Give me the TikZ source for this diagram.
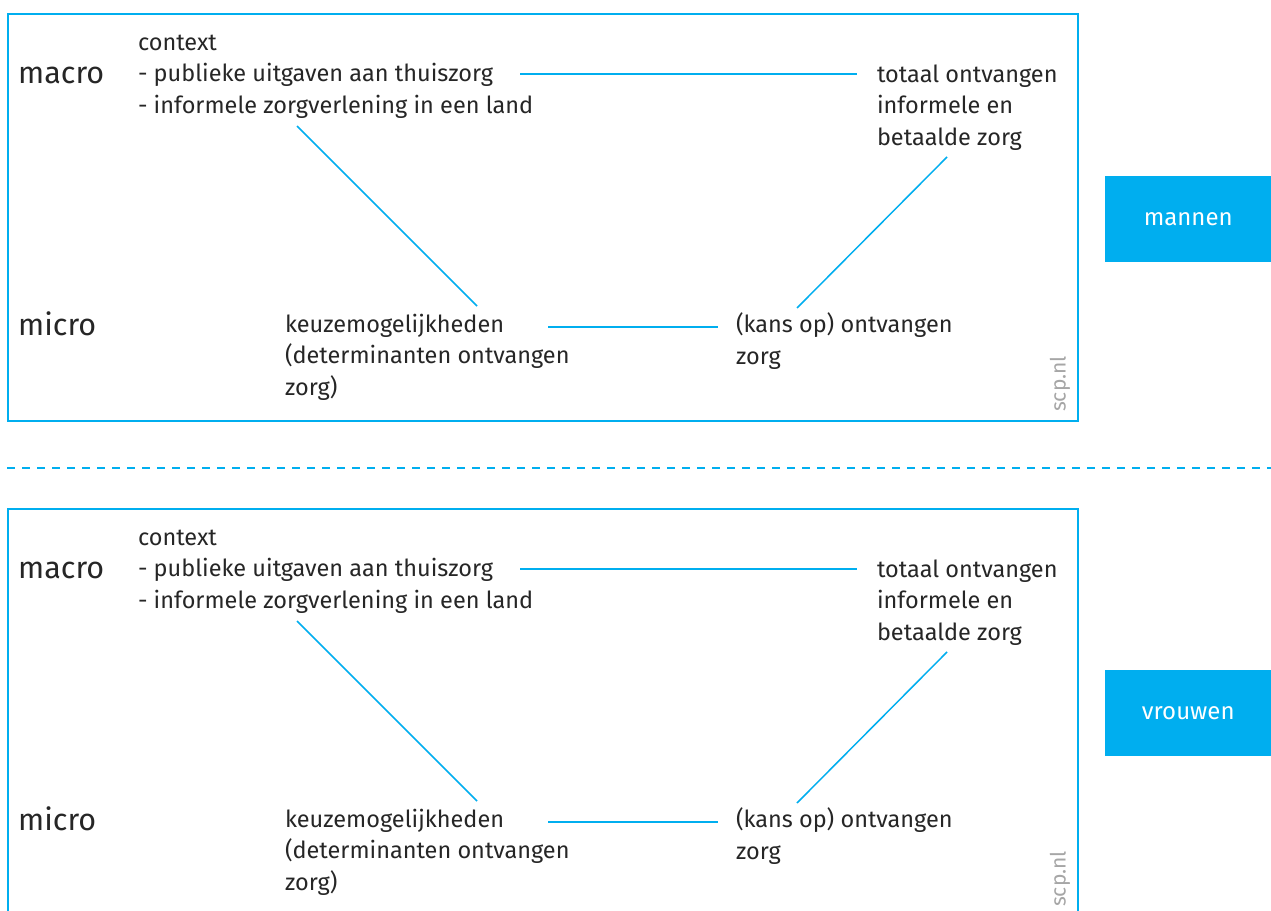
\documentclass[tikz,border=0pt]{standalone}
\usepackage{fontspec}
\setmainfont{Fira Sans}
\definecolor{scpblue}{HTML}{00AEEF}
\definecolor{srcgrey}{HTML}{A6A6A6}
\begin{document}
\begin{tikzpicture}[x=1pt,y=-1pt,
  frame/.style={draw=scpblue, line width=2pt},
  link/.style={draw=scpblue, line width=1.5pt},
  txt/.style={anchor=base west, inner sep=0pt, outer sep=0pt, text=black!85, font=\fontsize{23.5}{31.5}\selectfont, align=left},
  level/.style={anchor=base west, inner sep=0pt, text=black!85, font=\fontsize{30.5}{32}\selectfont},
  tag/.style={fill=scpblue, minimum width=166pt, minimum height=86pt, text=white, font=\fontsize{24}{28}\selectfont, inner sep=0pt, anchor=north west},
  src/.style={rotate=90, text=srcgrey, font=\fontsize{21}{24}\selectfont, inner sep=0pt},
  divider/.style={draw=scpblue, line width=2pt, dash pattern=on 8pt off 7pt}]
\useasboundingbox (0,0) rectangle (1271,910);
\clip (0,0) rectangle (1271,910);
\fill[white] (0,0) rectangle (1271,910);

% ---------- panel 1 (mannen) ----------
\begin{scope}
\draw[frame] (8,14) rectangle (1078,421);
\node[level] (macroA) at (18,83) {macro};
\node[level] (microA) at (18,335) {micro};
\node[txt] (ctxA) at (138,113) {context\\- publieke uitgaven aan thuiszorg\\- informele zorgverlening in een land};
\node[txt] (totA) at (877,145) {totaal ontvangen\\informele en\\betaalde zorg};
\node[txt] (keuzeA) at (285,395) {keuzemogelijkheden\\(determinanten ontvangen\\zorg)};
\node[txt] (kansA) at (736,364) {(kans op) ontvangen\\zorg};
\node[src] (srcA) at (1060,384) {scp.nl};
\coordinate (a1) at (520,74); \coordinate (a2) at (857,74);
\coordinate (b1) at (297,126); \coordinate (b2) at (477,306);
\coordinate (c1) at (947,157); \coordinate (c2) at (797,308);
\coordinate (d1) at (548,327); \coordinate (d2) at (718,327);
\draw[link] (a1) -- (a2);
\draw[link] (b1) -- (b2);
\draw[link] (c1) -- (c2);
\draw[link] (d1) -- (d2);
\node[tag] (mannen) at (1105,176) {mannen};
\end{scope}

% ---------- divider ----------
\coordinate (dl) at (7,468); \coordinate (dr) at (1271,468);
\draw[divider] (dl) -- (dr);

% ---------- panel 2 (vrouwen) ----------
\begin{scope}[yshift=-495pt]
\draw[frame] (8,14) rectangle (1078,421);
\node[level] (macroB) at (18,83) {macro};
\node[level] (microB) at (18,335) {micro};
\node[txt] (ctxB) at (138,113) {context\\- publieke uitgaven aan thuiszorg\\- informele zorgverlening in een land};
\node[txt] (totB) at (877,145) {totaal ontvangen\\informele en\\betaalde zorg};
\node[txt] (keuzeB) at (285,395) {keuzemogelijkheden\\(determinanten ontvangen\\zorg)};
\node[txt] (kansB) at (736,364) {(kans op) ontvangen\\zorg};
\node[src] (srcB) at (1060,384) {scp.nl};
\coordinate (e1) at (520,74); \coordinate (e2) at (857,74);
\coordinate (f1) at (297,126); \coordinate (f2) at (477,306);
\coordinate (g1) at (947,157); \coordinate (g2) at (797,308);
\coordinate (h1) at (548,327); \coordinate (h2) at (718,327);
\draw[link] (e1) -- (e2);
\draw[link] (f1) -- (f2);
\draw[link] (g1) -- (g2);
\draw[link] (h1) -- (h2);
\node[tag] (vrouwen) at (1105,175) {vrouwen};
\end{scope}
\end{tikzpicture}
\end{document}
